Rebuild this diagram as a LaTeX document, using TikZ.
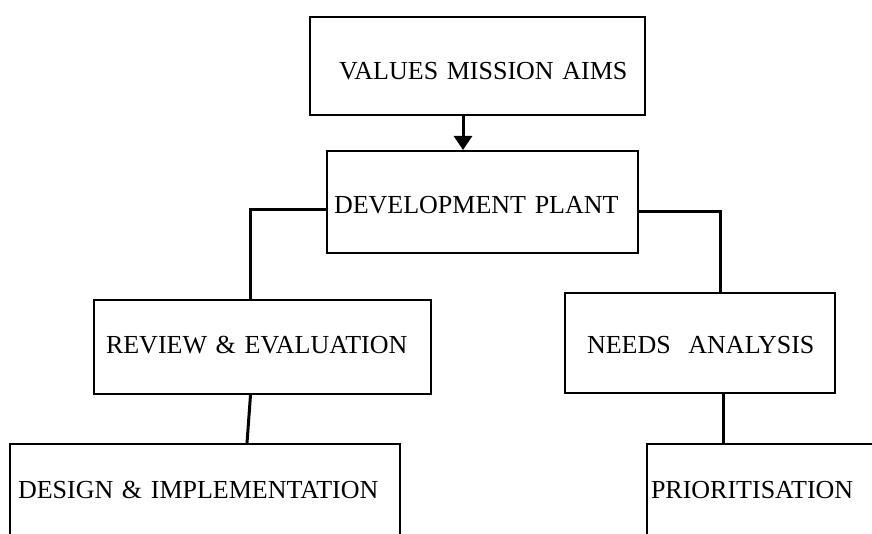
\documentclass[tikz,border=0pt]{standalone}
\usepackage{fontspec}
\setmainfont{Liberation Serif}
\usetikzlibrary{arrows.meta}
\begin{document}
\begin{tikzpicture}[x=1pt,y=-1pt,
  box/.style={draw, line width=2pt, anchor=north west, align=left,
    inner xsep=4pt, inner ysep=0pt, text depth=0pt,
    font=\fontsize{26}{30}\selectfont},
  conn/.style={line width=3pt}]
\useasboundingbox (0,0) rectangle (872,534);
\clip (0,0) rectangle (872,534);

\node[box, minimum width=335pt, minimum height=98pt, text width=327pt, text height=26.5pt]
  (vma) at (309,16) {\mbox{\hspace*{25pt}VALUES MISSION AIMS}};
\node[box, minimum width=311pt, minimum height=102pt, text width=303pt, text height=22.5pt]
  (dev) at (326,150) {\mbox{\hspace*{3pt}DEVELOPMENT PLANT}};
\node[box, minimum width=337pt, minimum height=94pt, text width=329pt, text height=17.5pt, text depth=5pt]
  (rev) at (93,299) {\mbox{\hspace*{8pt}REVIEW \& EVALUATION}};
\node[box, minimum width=270pt, minimum height=100pt, text width=262pt, text height=21.5pt]
  (need) at (564,292) {\mbox{\hspace*{18pt}NEEDS\hspace{9pt} ANALYSIS}};
\node[box, minimum width=390pt, minimum height=92pt, text width=382pt, text height=17.5pt]
  (des) at (9,443) {\mbox{\hspace*{4pt}DESIGN \& IMPLEMENTATION}};
\node[box, minimum width=240pt, minimum height=92pt, text width=232pt, text height=17.5pt]
  (pri) at (646,443) {\mbox{PRIORITISATION}};

\draw[conn, -{Triangle[length=14pt,width=18pt]}]
  ([xshift=-14.5pt]vma.south) -- ([xshift=-19.5pt]dev.north);
\draw[conn] ([yshift=-8pt]dev.west) -| ([xshift=-12.5pt]rev.north);
\draw[conn] ([yshift=-10pt]dev.east) -| ([xshift=20pt]need.north);
\draw[conn] ([xshift=-12pt]rev.south) -- ([xshift=42pt]des.north);
\draw[conn] ([xshift=23pt]need.south) -- ([xshift=-44pt]pri.north);
\end{tikzpicture}
\end{document}
